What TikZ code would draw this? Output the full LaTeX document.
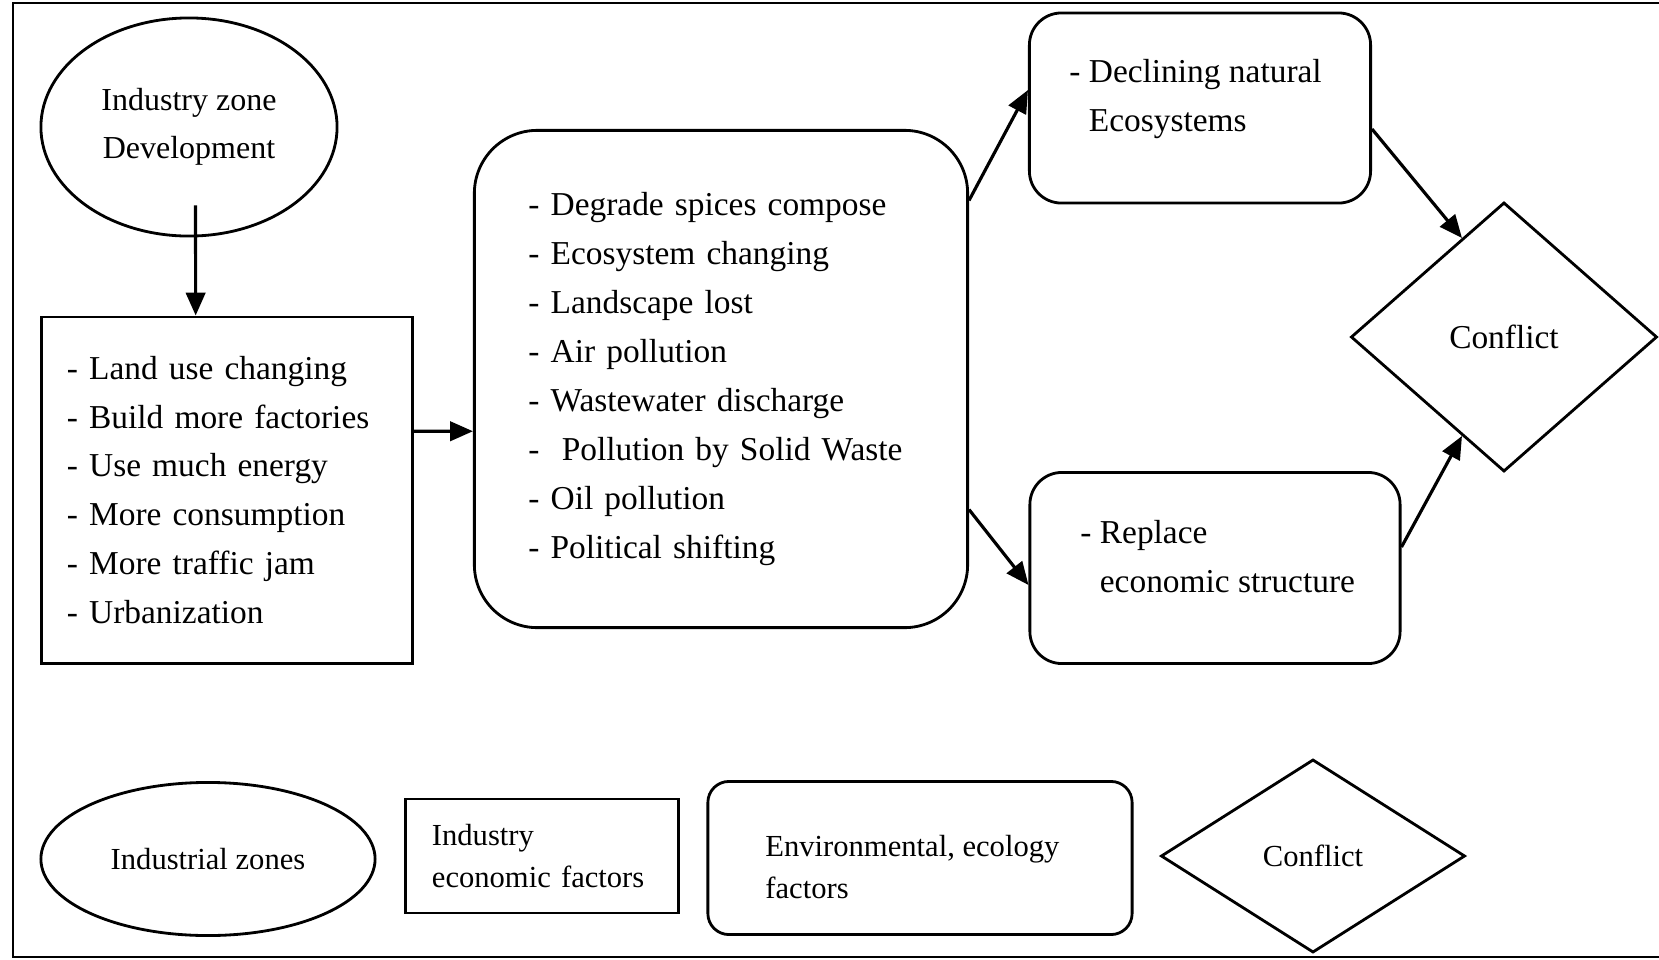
\documentclass[tikz,border=0pt]{standalone}
\usepackage{amssymb,amsmath}
\usepackage{fontspec}
\setmainfont{Liberation Serif}
\usetikzlibrary{shapes.geometric,arrows.meta}

\begin{document}
\begin{tikzpicture}[x = 0.01cm, y = -0.01cm]
    \tikzstyle{every node} = [draw, line width = .8pt, inner sep = 0pt, align = left];
    \tikzstyle{bare} = [draw = none];
    \tikzstyle{textfont} = [font = \fontsize{9.5}{13.9}\selectfont];
    \tikzstyle{keyfont} = [font = \fontsize{8.7}{12}\selectfont];
    \tikzstyle{arr} = [line width = .9pt, -{Triangle[length = 6.5pt, width = 5.5pt]}];
    \useasboundingbox (0,0) rectangle (1659,960);
    % frame:
    \draw[line width = .7pt] (1659,3) -- (13,3) -- (13,957) -- (1659,957);
    % shapes:
    \node[ellipse, minimum width = 2.96cm, minimum height = 2.18cm, align = center,
          font = \fontsize{9.1}{13.5}\selectfont] (zone) at (189,127) {Industry zone\\Development};
    \node[rectangle, textfont, minimum width = 3.71cm, minimum height = 3.46cm,
          inner xsep = .254cm, text width = 3.2cm] (econ) at (227,490) {- Land use changing\\- Build more factories\\- Use much energy\\- More consumption\\- More traffic jam\\- Urbanization};
    \node[rectangle, rounded corners = .63cm, textfont, minimum width = 4.93cm, minimum height = 4.97cm,
          inner xsep = .54cm, text width = 3.85cm] (env) at (721,379) {- Degrade spices compose\\- Ecosystem changing\\- Landscape lost\\- Air pollution\\- Wastewater discharge\\- \ Pollution by Solid Waste\\- Oil pollution\\- Political shifting};
    \node[rectangle, rounded corners = .32cm, minimum width = 3.41cm, minimum height = 1.90cm] (decl) at (1200,108) {};
    \node[bare, textfont, anchor = west] (decltxt) at (1068,99) {- Declining natural\\\hphantom{- }Ecosystems};
    \node[rectangle, rounded corners = .32cm, minimum width = 3.70cm, minimum height = 1.91cm] (repl) at (1215,568) {};
    \node[bare, textfont, anchor = west] (repltxt) at (1079,557) {- Replace\\\hphantom{- }economic structure};
    \node[diamond, aspect = 1.14, minimum width = 3.06cm, minimum height = 2.69cm,
          font = \fontsize{9.5}{12}\selectfont] (conf) at (1504,337) {Conflict};
    % legend:
    \node[ellipse, keyfont, minimum width = 3.34cm, minimum height = 1.53cm] (kzone) at (208,859) {Industrial zones};
    \node[rectangle, keyfont, minimum width = 2.73cm, minimum height = 1.14cm,
          inner xsep = .267cm, text width = 2.2cm] (keco) at (542,856) {Industry\\economic factors};
    \node[rectangle, rounded corners = .21cm, minimum width = 4.24cm, minimum height = 1.53cm] (kenv) at (920,858) {};
    \node[bare, keyfont, anchor = west] (kenvtxt) at (764,867) {Environmental, ecology\\factors};
    \node[diamond, keyfont, aspect = 1.58, minimum width = 3.04cm, minimum height = 1.93cm] (kconf) at (1313,856) {Conflict};
    % arrows:
    \draw[arr] ([xshift = .065cm, yshift = .32cm]zone.south) -- ([xshift = -.313cm]econ.north);
    \draw[arr] ([yshift = .587cm]econ.east) -- ([yshift = -.522cm]env.west);
    \draw[arr] ([yshift = 1.785cm]env.east) -- ([yshift = .18cm]decl.west);
    \draw[arr] ([yshift = -1.305cm]env.east) -- ([yshift = -.17cm]repl.west);
    \draw[arr] ([yshift = -.21cm]decl.east) -- (conf.113);
    \draw[arr] ([yshift = .21cm]repl.east) -- (conf.247);
\end{tikzpicture}
\end{document}
